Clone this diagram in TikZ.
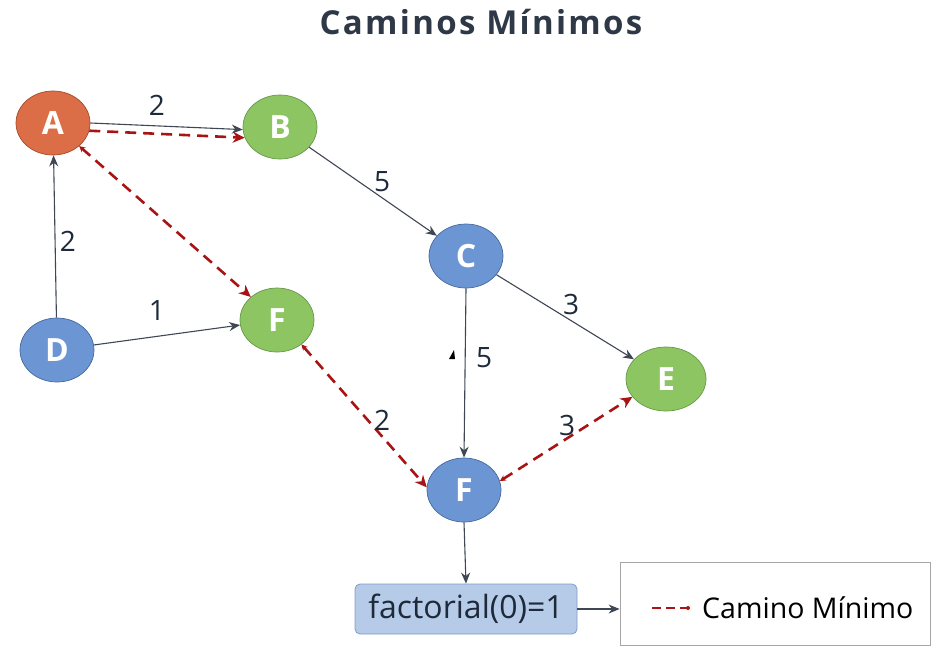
\documentclass[tikz,border=0pt]{standalone}
\usepackage{fontspec}
\setmainfont{Open Sans}
\newfontfamily\titlefont[LetterSpace=7]{Open Sans}
\usetikzlibrary{shapes.geometric,arrows.meta}
\definecolor{edgec}{HTML}{3F4654}
\definecolor{pathred}{HTML}{A81414}
\definecolor{labc}{HTML}{1E2A3A}
\definecolor{orfill}{HTML}{DB6D47}
\definecolor{ordraw}{HTML}{A84A2C}
\definecolor{grfill}{HTML}{8DC563}
\definecolor{grdraw}{HTML}{67984A}
\definecolor{blfill}{HTML}{6B96D3}
\definecolor{bldraw}{HTML}{46689E}
\definecolor{boxfill}{HTML}{B5CBE8}
\definecolor{boxdraw}{HTML}{7F9DC8}
\definecolor{titlec}{HTML}{2E3846}
\tikzset{
  vtx/.style={ellipse,minimum width=74pt,minimum height=64pt,inner sep=0pt,line width=0.7pt,
    text=white,font=\bfseries\fontsize{32}{32}\selectfont},
  orv/.style={vtx,fill=orfill,draw=ordraw},
  grv/.style={vtx,fill=grfill,draw=grdraw},
  blv/.style={vtx,fill=blfill,draw=bldraw},
  edge/.style={draw=edgec,line width=1.1pt,-{Stealth[length=11pt,width=9pt]}},
  spath/.style={draw=pathred,line width=2.6pt,dash pattern=on 11pt off 7pt,
    -{Stealth[length=12pt,width=11pt,fill=pathred]}},
  spath2/.style={spath,{Stealth[length=6pt,width=6pt,fill=black]}-{Stealth[length=12pt,width=11pt,fill=pathred]}},
  elab/.style={text=labc,font=\fontsize{28}{28}\selectfont,inner sep=0pt},
}
\begin{document}
\begin{tikzpicture}[x=1pt,y=-1pt]
\useasboundingbox (0,0) rectangle (941,656);
% title
\node[text=titlec,font=\titlefont\bfseries\fontsize{33}{33}\selectfont] (title) at (481,22) {Caminos Mínimos};
% vertices
\node[orv] (A) at (53,123) {A};
\node[grv] (B) at (280,127) {B};
\node[blv] (C) at (466,256) {C};
\node[grv] (Fg) at (277,320) {F};
\node[blv] (D) at (57,350) {D};
\node[grv,minimum width=80pt] (E) at (666,379) {E};
\node[blv] (Fb) at (464,490) {F};
% bottom box and legend
\node[draw=boxdraw,fill=boxfill,rounded corners=5pt,line width=0.8pt,minimum width=222pt,minimum height=50pt,
  text=labc,font=\fontsize{32}{32}\selectfont,inner sep=0pt] (fact) at (466,609) {factorial(0)=1};
\node[draw=gray!70,line width=0.8pt,minimum width=310pt,minimum height=83pt,inner sep=0pt] (legend) at (775,603.5) {};
\coordinate (lg1) at (652,608);
\coordinate (lg2) at (688,608);
\draw[draw=pathred,line width=2.6pt,dash pattern=on 9pt off 5pt] (lg1) -- (lg2);
\fill[pathred] (lg2) circle (2pt);
\node[anchor=west,text=black,font=\fontsize{28.5}{28.5}\selectfont,inner sep=0pt] (lgtext) at (702,608) {Camino Mínimo};
% solid edges
\draw[edge] (A.0) -- (B.184);
\draw[edge] (B) -- (C);
\draw[edge] (D) -- (A);
\draw[edge] (D) -- (Fg);
\draw[edge] (C) -- (E);
\draw[edge] (C.-90) -- (Fb.90);
\draw[edge] (Fb.-90) -- (fact.north);
\draw[edge] (fact.east) -- (fact.east -| legend.west);
% shortest path (dashed)
\draw[spath] (A.-12) -- (B.-163);
\draw[spath2] (A) -- (Fg);
\draw[spath2] (Fg.-45) -- (Fb.176);
\draw[spath2] (Fb.14) -- (E.-152);
% edge labels
\node[elab] (l1) at (157,105) {2};
\node[elab] (l2) at (382,182) {5};
\node[elab] (l3) at (68,241) {2};
\node[elab] (l4) at (157,310) {1};
\node[elab] (l5) at (571,304) {3};
\node[elab] (l6) at (484,358) {5};
\node[elab] (l7) at (382,420) {2};
\node[elab] (l8) at (567,425) {3};
% stray mark
\fill[black] (449,359) -- (454,350) -- (455,359) -- cycle;
\end{tikzpicture}
\end{document}
